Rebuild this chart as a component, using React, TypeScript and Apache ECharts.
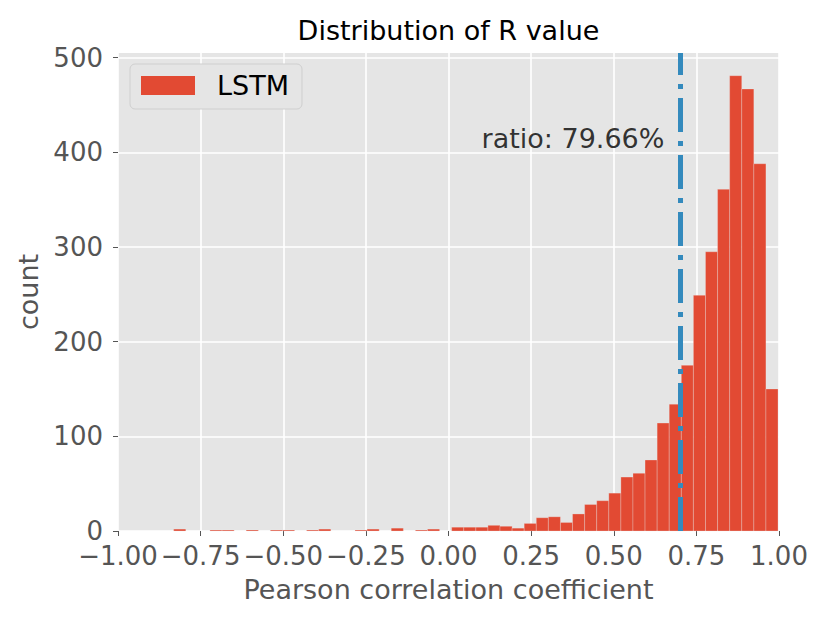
import React, { useEffect, useRef } from "react";
import * as echarts from "echarts";

// Histogram definition (50 bins between data min and data max)
const histMin = -0.8315;
const histMax = 0.997;
const binCounts = [
  2, 0, 0, 1, 1, 0, 1, 0, 1, 1,
  0, 1, 2, 0, 0, 1, 2, 0, 3, 0,
  1, 2, 0, 4, 4, 4, 6, 5, 3, 8,
  14, 15, 9, 18, 28, 32, 40, 57, 61, 75,
  114, 134, 175, 249, 295, 361, 481, 467, 388, 150,
];
const yTicks = [0, 100, 200, 300, 400, 500];
const threshold = 0.7;
const ratioText = "ratio: 79.66%";
const ratioPos = [0.1, 400];
const seriesName = "LSTM";
const titleText = "Distribution of R value";
const xName = "Pearson correlation coefficient";
const yName = "count";

const FONT = "DejaVu Sans";

export default function App() {
  const ref = useRef<HTMLDivElement>(null);
  useEffect(() => {
    const chart = echarts.init(ref.current!, null, { renderer: "svg" });
    const n = binCounts.length;
    const w = (histMax - histMin) / n;
    const data = binCounts.map((c, i) => [histMin + i * w, histMin + (i + 1) * w, c]);
    chart.setOption({
      animation: false,
      backgroundColor: "#ffffff",
      grid: {
        left: 118,
        right: 51,
        top: 53,
        bottom: 92,
        show: true,
        backgroundColor: "#E5E5E5",
        borderWidth: 0,
        containLabel: false,
        outerBoundsMode: "none",
      },
      graphic: [
        {
          type: "text",
          x: 448.5,
          y: 17,
          style: {
            text: titleText,
            fontSize: 27,
            fontFamily: FONT,
            fill: "#000000",
            align: "center",
            verticalAlign: "top",
          },
        },
      ],
      legend: {
        data: [seriesName],
        left: 130,
        top: 64,
        orient: "vertical",
        padding: [8, 13, 10, 11],
        backgroundColor: "#E5E5E5",
        borderColor: "#CFCFCF",
        borderWidth: 1,
        borderRadius: 5,
        itemWidth: 54,
        itemHeight: 19,
        icon: "rect",
        selectedMode: false,
        textStyle: {
          fontSize: 27,
          fontFamily: FONT,
          color: "#000000",
          padding: [0, 0, 0, 17],
        },
      },
      xAxis: {
        type: "value",
        min: -1,
        max: 1,
        interval: 0.25,
        axisLine: { show: false, onZero: false },
        axisTick: { show: true, length: 5, lineStyle: { color: "#555555", width: 1 } },
        axisLabel: {
          fontSize: 26,
          fontFamily: FONT,
          color: "#555555",
          margin: 12,
          formatter: (v: number) => v.toFixed(2).replace("-", "\u2212"),
        },
        splitLine: { show: true, lineStyle: { color: "#ffffff", width: 1.6 } },
        name: xName,
        nameLocation: "middle",
        nameGap: 45,
        nameTextStyle: { fontSize: 27, fontFamily: FONT, color: "#555555" },
      },
      yAxis: {
        type: "value",
        min: 0,
        max: 505,
        interval: 100,
        axisLine: { show: false, onZero: false },
        axisTick: {
          show: true,
          length: 5,
          lineStyle: { color: "#555555", width: 1 },
          customValues: yTicks,
        },
        axisLabel: {
          fontSize: 26,
          fontFamily: FONT,
          color: "#555555",
          margin: 15,
          customValues: yTicks,
        },
        splitLine: { show: true, lineStyle: { color: "#ffffff", width: 1.6 } },
        name: yName,
        nameLocation: "middle",
        nameGap: 72,
        nameRotate: 90,
        nameTextStyle: { fontSize: 27, fontFamily: FONT, color: "#555555" },
      },
      series: [
        {
          name: seriesName,
          type: "custom",
          itemStyle: { color: "#E24A33" },
          encode: { x: [0, 1], y: 2 },
          data,
          silent: true,
          renderItem: (params: any, api: any) => {
            const x0 = api.value(0);
            const x1 = api.value(1);
            const c = api.value(2);
            if (!c) return { type: "group", children: [] };
            const p0 = api.coord([x0, c]);
            const p1 = api.coord([x1, 0]);
            return {
              type: "rect",
              shape: { x: p0[0], y: p0[1], width: p1[0] - p0[0], height: p1[1] - p0[1] },
              style: { fill: "#E24A33", stroke: "rgba(238,238,238,0.35)", lineWidth: 0.8 },
            };
          },
        },
        {
          name: "ratio",
          type: "scatter",
          data: [ratioPos],
          symbolSize: 0,
          silent: true,
          label: {
            show: true,
            formatter: ratioText,
            position: [0, 0],
            align: "left",
            verticalAlign: "bottom",
            fontSize: 27,
            fontFamily: FONT,
            color: "#000000",
          },
          markLine: {
            silent: true,
            symbol: ["none", "none"],
            label: { show: false },
            emphasis: { disabled: true },
            lineStyle: { color: "#348ABD", width: 5, type: [34, 9, 5, 9], opacity: 1 },
            data: [{ xAxis: threshold }],
          },
        },
      ],
    });
    return () => chart.dispose();
  }, []);
  return (
    <div
      ref={ref}
      style={{ position: "absolute", left: 0, top: 0, width: 830, height: 623 }}
    />
  );
}
